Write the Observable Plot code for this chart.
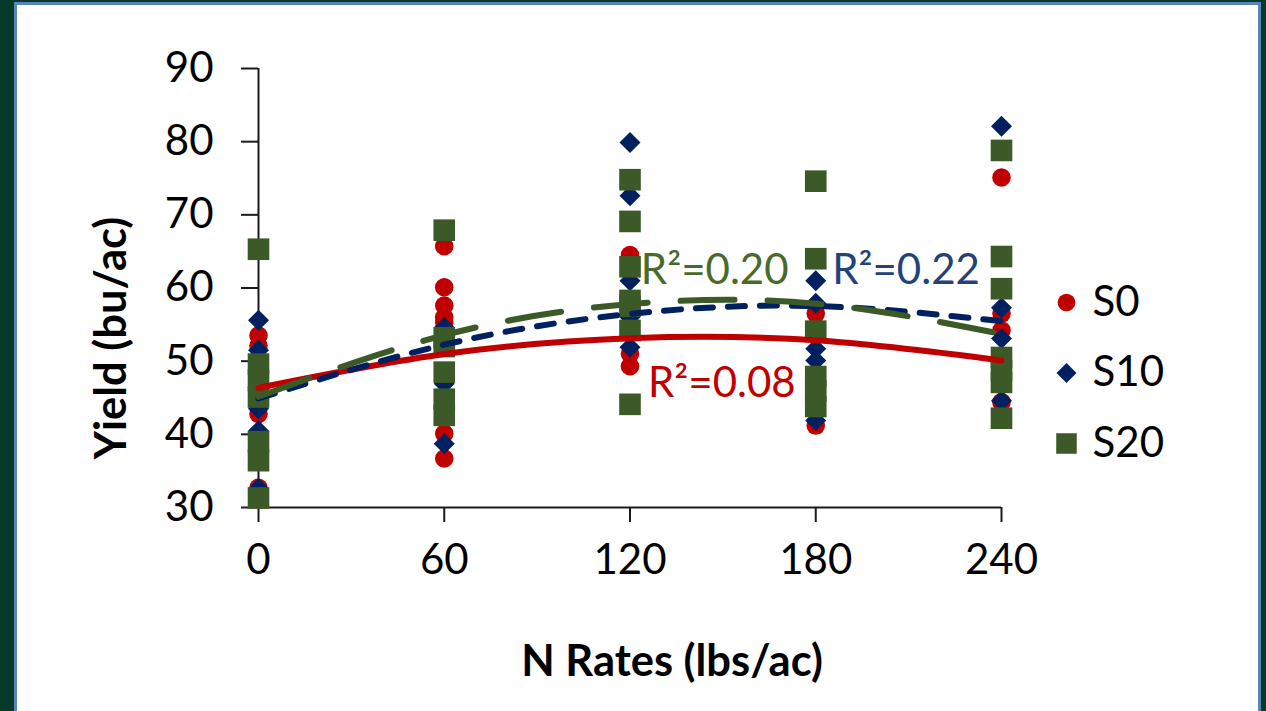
<!DOCTYPE html>
<html>
<head>
<meta charset="utf-8">
<script src="https://cdn.jsdelivr.net/npm/d3@7"></script>
<script src="https://cdn.jsdelivr.net/npm/@observablehq/plot@0.6"></script>
<style>
  html, body { margin: 0; padding: 0; width: 1266px; height: 711px; overflow: hidden; background: #073a2b; }
  #panel { position: absolute; left: 14px; top: 2px; width: 1241px; height: 730px; background: #fff; border: 3px solid #5a85b8; }
  #chart { position: absolute; left: 0; top: 0; }
</style>
</head>
<body>
<div id="panel"></div>
<div id="chart"></div>
<script>
// ---- data ----
const xTicks = [0, 60, 120, 180, 240];
const yTicks = [30, 40, 50, 60, 70, 80, 90];
const seriesNames = ["S0", "S10", "S20"];
const seriesColors = ["#c00000", "#002060", "#3c5a27"];

// observed yields (N rate -> list of yields)
const s0Rates  = [0, 0, 0, 0, 60, 60, 60, 60, 60, 60, 60, 120, 120, 120, 180, 180, 240, 240, 240, 240];
const s0Yield  = [53.5, 52.1, 42.8, 32.7, 65.7, 60.1, 57.6, 56.0, 55.3, 40.1, 36.7, 64.5, 51.0, 49.3, 56.5, 41.2, 75.1, 56.5, 54.2, 44.4];
const s10Rates = [0, 0, 0, 0, 0, 60, 60, 60, 120, 120, 120, 120, 120, 180, 180, 180, 180, 180, 240, 240, 240, 240];
const s10Yield = [55.6, 51.5, 43.5, 40.5, 32.6, 54.6, 46.9, 38.7, 79.9, 72.6, 61.0, 56.0, 51.9, 61.0, 57.9, 51.7, 50.1, 41.9, 82.1, 57.3, 53.1, 44.6];
const s20Rates = [0, 0, 0, 0, 0, 0, 0, 60, 60, 60, 60, 60, 60, 120, 120, 120, 120, 120, 120, 120, 180, 180, 180, 180, 180, 180, 240, 240, 240, 240, 240, 240, 240];
const s20Yield = [65.3, 49.6, 47.4, 45.1, 39.0, 36.4, 31.3, 67.9, 53.2, 52.0, 48.5, 44.8, 42.6, 74.8, 69.1, 62.9, 58.3, 57.5, 54.2, 44.1, 74.6, 64.0, 54.1, 47.9, 45.9, 43.8, 78.8, 64.3, 59.9, 50.5, 48.7, 47.1, 42.2];

// trendline values at each N rate
const trendX   = [0, 60, 120, 180, 240];
const trendS0  = [46.34, 50.97, 53.14, 52.85, 50.10];
const trendS10 = [44.90, 52.25, 56.46, 57.53, 55.46];
const trendS20 = [45.13, 53.56, 57.81, 57.86, 53.73];

// R² annotations
const r2Text = ["R²=0.20", "R²=0.22", "R²=0.08"];
const r2X    = [123.5, 185.3, 125.8];
const r2Y    = [62.4, 62.4, 46.9];
const r2Color = ["#4a6a2c", "#24427a", "#c00000"];

// ---- build tables ----
const pts = (rates, ys) => rates.map((r, i) => ({x: r, y: ys[i]}));
const s0 = pts(s0Rates, s0Yield);
const s10 = pts(s10Rates, s10Yield);
const s20 = pts(s20Rates, s20Yield);
const trend = ys => trendX.map((x, i) => ({x, y: ys[i]}));
const r2 = r2Text.map((t, i) => ({t, x: r2X[i], y: r2Y[i], c: r2Color[i]}));

const diamond = {
  draw(ctx, size) {
    const h = Math.sqrt(size / Math.PI);
    ctx.moveTo(0, -h); ctx.lineTo(h, 0); ctx.lineTo(0, h); ctx.lineTo(-h, 0); ctx.closePath();
  }
};
const symbols = ["circle", diamond, "square"];
const radii = [9.3, 10.5, 12.2];

const FONT = "Lato, 'Open Sans', sans-serif";
const FS = 42;
const TFS = 43.5;

const legendMarks = seriesNames.flatMap((name, i) => [
  Plot.dot([name], {frameAnchor: "right", dx: 65, dy: 14.5 + i * 70.5, r: radii[i] * 0.95, symbol: symbols[i], fill: seriesColors[i]}),
  Plot.text([name], {frameAnchor: "right", dx: 91, dy: 14.5 + i * 70.5, text: d => d, textAnchor: "start", lineAnchor: "middle", fontSize: FS, fill: "#000"})
]);

const chart = Plot.plot({
  width: 1266,
  height: 711,
  marginLeft: 258,
  marginRight: 265,
  marginTop: 68,
  marginBottom: 204,
  style: {background: "transparent", fontFamily: FONT, overflow: "visible"},
  x: {domain: [0, 240]},
  y: {domain: [30, 90]},
  marks: [
    Plot.axisY({ticks: yTicks, tickSize: 17, tickPadding: 28, fontSize: FS, label: null, stroke: "#1a1a1a", strokeWidth: 2, fill: "#000"}),
    Plot.axisX({ticks: xTicks, tickSize: 15, tickPadding: 22, fontSize: FS, label: null, stroke: "#1a1a1a", strokeWidth: 2, fill: "#000"}),
    Plot.ruleX([0], {y1: 30, y2: 90, stroke: "#1a1a1a", strokeWidth: 2}),
    Plot.ruleY([30], {x1: 0, x2: 240, stroke: "#1a1a1a", strokeWidth: 2}),
    Plot.dot(s0, {x: "x", y: "y", r: radii[0], symbol: symbols[0], fill: seriesColors[0]}),
    Plot.dot(s10, {x: "x", y: "y", r: radii[1], symbol: symbols[1], fill: seriesColors[1]}),
    Plot.dot(s20, {x: "x", y: "y", r: radii[2], symbol: symbols[2], fill: seriesColors[2]}),
    Plot.line(trend(trendS0), {x: "x", y: "y", curve: "natural", stroke: seriesColors[0], strokeWidth: 6}),
    Plot.line(trend(trendS10), {x: "x", y: "y", curve: "natural", stroke: seriesColors[1], strokeWidth: 6, strokeDasharray: "17,15", strokeLinecap: "round"}),
    Plot.line(trend(trendS20), {x: "x", y: "y", curve: "natural", stroke: seriesColors[2], strokeWidth: 6, strokeDasharray: "54,33", strokeLinecap: "round"}),
    Plot.text(r2, {x: "x", y: "y", text: "t", fill: "c", textAnchor: "start", lineAnchor: "middle", fontSize: FS}),
    Plot.text(["Yield (bu/ac)"], {frameAnchor: "left", dx: -146, dy: 50, rotate: -90, text: d => d, fontSize: TFS, fontWeight: "bold", fill: "#000", textAnchor: "middle", lineAnchor: "middle"}),
    Plot.text(["N Rates (lbs/ac)"], {frameAnchor: "bottom", dx: 42, dy: 155, text: d => d, fontSize: TFS, fontWeight: "bold", fill: "#000", textAnchor: "middle", lineAnchor: "middle"}),
    ...legendMarks
  ]
});
document.getElementById("chart").appendChild(chart);
</script>
</body>
</html>
